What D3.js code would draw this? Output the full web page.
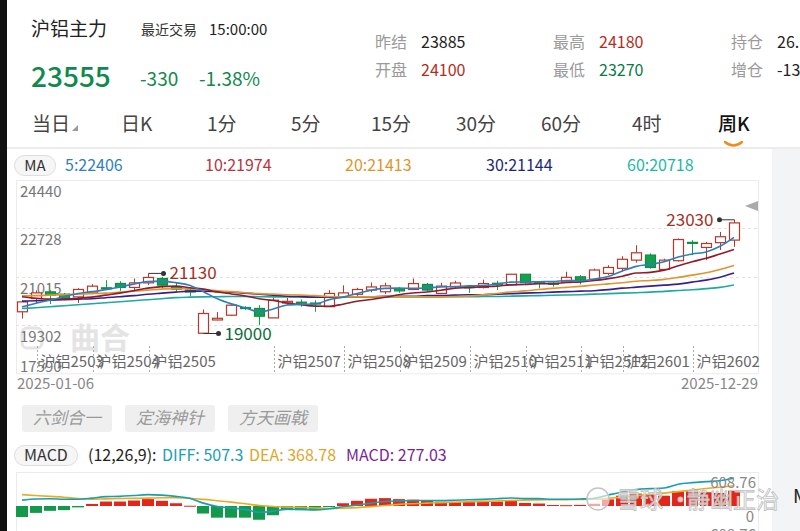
<!DOCTYPE html>
<html>
<head>
<meta charset="utf-8">
<script src="https://cdn.jsdelivr.net/npm/d3@7"></script>
<style>
body { margin: 0; background: #fff; }
svg { display: block; font-family: "Noto Sans CJK SC", "Noto Sans", sans-serif; }
</style>
</head>
<body>
<div id="chart"></div>
<script>
// weekly bars, 2025-01-06 .. 2025-12-29
const weeks = ["2025-01-06","2025-01-13","2025-01-20","2025-01-27","2025-02-03","2025-02-10","2025-02-17","2025-02-24",
  "2025-03-03","2025-03-10","2025-03-17","2025-03-24","2025-03-31","2025-04-07","2025-04-14","2025-04-21","2025-04-28",
  "2025-05-05","2025-05-12","2025-05-19","2025-05-26","2025-06-02","2025-06-09","2025-06-16","2025-06-23","2025-06-30",
  "2025-07-07","2025-07-14","2025-07-21","2025-07-28","2025-08-04","2025-08-11","2025-08-18","2025-08-25","2025-09-01",
  "2025-09-08","2025-09-15","2025-09-22","2025-09-29","2025-10-06","2025-10-13","2025-10-20","2025-10-27","2025-11-03",
  "2025-11-10","2025-11-17","2025-11-24","2025-12-01","2025-12-08","2025-12-15","2025-12-22","2025-12-29"];

const open  = [19770,20240,20476,20394,20298,20440,20620,20774,20632,20795,20951,20635,20540,19010,19480,19649,19920,19887,19553,20080,20110,20080,19950,20300,20390,20540,
               20480,20590,20560,20740,20420,20650,20660,20630,20780,20730,21100,20810,20780,20830,21010,20920,21130,21310,21600,21780,21270,21580,22230,22050,22220,22310];
const high  = [20160,20530,20536,20440,20607,20749,20890,20855,20951,21130,21010,20795,20650,19851,19760,20040,19970,20004,20270,20260,20210,20180,20540,20710,20620,20810,
               20800,20650,20950,20790,20800,20870,20700,20910,20870,21110,21110,20850,20830,21190,21070,21300,21420,21740,22130,21840,21650,22370,22310,22250,22600,23030];
const low   = [19530,20065,20040,20180,20085,20394,20580,20511,20536,20714,20597,20480,20330,19000,19470,19624,19830,19293,19553,20010,19950,19770,19950,20300,20330,20460,
               20400,20440,20540,20490,20400,20610,20440,20600,20540,20710,20760,20600,20660,20800,20740,20890,21070,21190,21510,21300,21240,21550,21780,21600,21960,22070];
const close = [20120,20440,20358,20228,20561,20678,20600,20632,20795,20987,20714,20570,20470,19709,19540,20004,19900,19613,20181,20140,20090,20060,20420,20440,20560,20650,
               20690,20510,20770,20540,20680,20790,20640,20770,20760,21100,20800,20790,20770,20990,20890,21250,21340,21630,21860,21340,21600,22330,22210,22190,22430,22920];

const ma5  = [19944,20075,20181,20305,20419,20483,20554,20653,20749,20838,20856,20802,20714,20480,20230,20050,19910,19760,19870,20010,20035,20045,20200,20290,20420,20536,
              20600,20610,20600,20620,20650,20665,20690,20700,20745,20820,20825,20835,20840,20880,20870,20930,21020,21215,21380,21450,21540,21710,21820,21890,22090,22406];
const ma10 = [20305,20252,20217,20217,20252,20288,20359,20430,20518,20607,20660,20678,20624,20572,20470,20402,20332,20230,20169,20084,20022,19971,19966,20039,20141,20205,
              20284,20374,20433,20473,20532,20605,20627,20660,20680,20725,20736,20764,20764,20809,20830,20876,20946,21032,21142,21166,21246,21400,21544,21664,21818,21974];
const ma20 = [20334,20341,20359,20376,20394,20412,20430,20465,20501,20536,20572,20589,20589,20554,20518,20483,20447,20412,20394,20376,20359,20341,20310,20300,20300,20300,
              20305,20305,20310,20300,20300,20310,20330,20370,20420,20470,20510,20560,20600,20635,20670,20720,20760,20800,20850,20880,20920,20990,21070,21150,21270,21413];
const ma30 = [20146,20163,20181,20199,20217,20234,20270,20305,20341,20394,20430,20465,20501,20501,20483,20465,20430,20394,20359,20323,20305,20288,20288,20288,20305,20305,
              20323,20323,20323,20341,20341,20359,20376,20376,20394,20412,20430,20447,20465,20483,20501,20518,20554,20607,20643,20678,20714,20749,20820,20891,20997,21144];
const ma60 = [19887,19915,19951,19986,20021,20057,20092,20128,20163,20199,20234,20270,20288,20300,20305,20310,20310,20305,20300,20300,20295,20290,20290,20290,20290,20290,
              20295,20295,20300,20300,20300,20305,20305,20310,20312,20323,20334,20344,20355,20366,20376,20394,20412,20430,20447,20465,20494,20522,20550,20589,20635,20718];

const macdBar = [-200,-125,-88,-75,-25,37,81,81,100,125,94,50,5,-137,-212,-212,-212,-250,-168,-75,-75,-75,-10,50,94,131,
                 143,125,115,95,75,75,75,75,80,90,55,45,18,15,20,40,120,187,225,206,187,268,268,250,237,277.03];
const dea  = [206,190,175,160,135,125,130,135,140,144,150,150,140,120,95,70,40,10,-10,-20,-25,-35,-45,-40,-30,-12,
              10,30,42,52,60,68,76,84,92,101,107,112,114,116,118,122,140,162,188,212,234,262,290,318,342,368.78];
const diff = [106,128,131,123,123,143,170,175,190,206,197,175,142,52,-11,-36,-66,-115,-94,-57,-62,-72,-50,-15,17,53,
              81,92,99,99,97,105,113,121,132,146,134,134,123,123,128,142,200,255,300,315,327,396,424,443,460,507.3];

const priceTicks = [24440, 22728, 21015, 19302, 17590];
const macdTicks = [608.76, 0, -608.76];
const rollWeeks  = ["2025-01-13","2025-02-10","2025-03-10","2025-05-12","2025-06-16","2025-07-14","2025-08-18","2025-09-15","2025-10-13","2025-11-03","2025-12-08"];
const rollLabels = ["沪铝2503","沪铝2504","沪铝2505","沪铝2507","沪铝2508","沪铝2509","沪铝2510","沪铝2511","沪铝2512","沪铝2601","沪铝2602"];

const maNames  = ["5","10","20","30","60"];
const maLast   = [22406, 21974, 21413, 21144, 20718];
const statNames  = ["昨结","开盘","最高","最低","持仓","增仓"];
const statValues = ["23885","24100","24180","23270","26.","-13"];
const tabs = ["当日","日K","1分","5分","15分","30分","60分","4时","周K"];

// colours / layout
const RED = "#b5392a", GREEN = "#15a04c", GREEN_TXT = "#0f8a4e";
const maColors = ["#2b7fbc", "#8e1c2c", "#e0952e", "#3a1f8c", "#1eaaa0"];
const maTextColors = ["#2f7fc1", "#b8333b", "#e0962a", "#1a2878", "#19b9a0"];
const maTextX = [65, 205, 345, 486, 627];
const tabX = [32, 121, 207, 291, 371, 456, 541, 632, 718];
const statX = [375, 375, 553, 553, 731, 731], statY = [48, 76, 48, 76, 48, 76];
const statColors = ["#222", "#b22d1e", "#b22d1e", "#0b7a4a", "#222", "#222"];

let svg = d3.select("#chart").append("svg")
    .attr("width", 800)
    .attr("height", 531);

function label(x, y, str, size, color, anchor) {
    return svg.append("text")
        .attr("x", x).attr("y", y)
        .style("font-size", size + "px")
        .style("fill", color)
        .style("text-anchor", anchor || "start")
        .text(str);
}

// frame bits
svg.append("rect").attr("x", 0).attr("y", 0).attr("width", 7).attr("height", 531).attr("fill", "#111");
svg.append("rect").attr("x", 7).attr("y", 147).attr("width", 793).attr("height", 2).attr("fill", "#ececec");
svg.append("rect").attr("x", 772).attr("y", 149).attr("width", 28).attr("height", 382).attr("fill", "#f3f4f6");
label(793, 503, "M", 19, "#222");

// header
label(31, 36, "沪铝主力", 19, "#222");
label(141, 35, "最近交易", 14, "#333");
label(209, 35, "15:00:00", 15, "#222");
label(31, 87, "23555", 28, GREEN_TXT).style("font-weight", 500);
label(140, 86, "-330", 19, GREEN_TXT);
label(199, 86, "-1.38%", 19, GREEN_TXT);
statNames.forEach((s, k) => {
    label(statX[k], statY[k], s, 16, "#9a9a9a");
    label(statX[k] + 46, statY[k], statValues[k], 16, statColors[k]);
});
tabs.forEach((t, k) => {
    let tx = label(tabX[k], 131, t, 19, k === tabs.length - 1 ? "#111" : "#444");
    if (k === tabs.length - 1) tx.style("font-weight", 500);
});
svg.append("path").attr("d", "M72,131L78,125L78,131Z").attr("fill", "#999");
svg.append("path").attr("d", "M725,142Q733.5,149 742,142")
    .attr("fill", "none").attr("stroke", "#f08c1e").attr("stroke-width", 2.5).attr("stroke-linecap", "round");

// MA legend
svg.append("rect").attr("x", 14.5).attr("y", 155.5).attr("width", 41).attr("height", 20).attr("rx", 10)
    .attr("fill", "#f6f6f6").attr("stroke", "#ddd");
label(35, 171, "MA", 15, "#333", "middle");
maNames.forEach((n, k) => label(maTextX[k], 171, n + ":" + maLast[k], 16, maTextColors[k]));

// price panel
const pLeft = 16, pRight = 758, pTop = 180, pBottom = 373.3;
let x = d3.scalePoint().domain(weeks).range([22, 734]);
let y = d3.scaleLinear().domain([17590, 24440]).range([pBottom, pTop]);

// watermark under everything
svg.append("rect").attr("x", 22).attr("y", 328).attr("width", 20).attr("height", 20).attr("rx", 5)
    .attr("fill", "none").attr("stroke", "#e4e4e4").attr("stroke-width", 3);
label(70, 349, "曲合", 30, "#e4e4e4").style("font-weight", 700);

svg.append("rect").attr("x", pLeft + 0.5).attr("y", pTop + 0.5).attr("width", pRight - pLeft).attr("height", pBottom - pTop)
    .attr("fill", "none").attr("stroke", "#ebebeb");

priceTicks.forEach((v, k) => {
    let gy = Math.round(y(v)) + 0.5;
    if (k > 0 && k < priceTicks.length - 1) {
        svg.append("line").attr("x1", pLeft).attr("x2", pRight).attr("y1", gy).attr("y2", gy)
            .attr("stroke", "#e2e2e2").attr("stroke-dasharray", "3,3");
    }
    label(20, k === priceTicks.length - 1 ? gy - 2 : gy + 16, v, 15, "#777");
});

// contract roll ticks
rollWeeks.forEach((w, k) => {
    let rx = Math.round(x(w)) + 1.5;
    svg.append("line").attr("x1", rx).attr("x2", rx).attr("y1", 346).attr("y2", pBottom)
        .attr("stroke", "#aaa").attr("stroke-dasharray", "2,2");
    label(rx + 3, 367, rollLabels[k], 15, "#666");
});

// candles
let candles = weeks.map((w, i) => ({ w: w, o: open[i], h: high[i], l: low[i], c: close[i] }));
let cg = svg.append("g");
candles.forEach(d => {
    let cx = Math.round(x(d.w)) + 0.5;
    let up = d.c >= d.o;
    let col = up ? RED : GREEN;
    cg.append("line").attr("x1", cx).attr("x2", cx).attr("y1", y(d.h)).attr("y2", y(d.l))
        .attr("stroke", col).attr("stroke-width", 1);
    let y0 = y(Math.max(d.o, d.c)), y1 = y(Math.min(d.o, d.c));
    cg.append("rect")
        .attr("x", cx - 5).attr("y", y0)
        .attr("width", 10).attr("height", Math.max(1, y1 - y0))
        .attr("fill", up ? "#fff" : GREEN)
        .attr("stroke", up ? RED : "#0f8e42")
        .attr("stroke-width", 1.2);
});

// moving averages
let line = d3.line().x((d, i) => x(weeks[i])).y(d => y(d)).curve(d3.curveMonotoneX);
[ma60, ma30, ma20, ma10, ma5].forEach((s, k) => {
    svg.append("path").attr("d", line(s))
        .attr("fill", "none")
        .attr("stroke", maColors[4 - k])
        .attr("stroke-width", 1.6);
});

// high / low marks
const marks = [
    { i: 9,  v: 21130, dir: 1,  color: "#a3301f" },
    { i: 13, v: 19000, dir: 1,  color: "#0d6b3c" },
    { i: 51, v: 23030, dir: -1, color: "#a3301f" }
];
marks.forEach(m => {
    let mx = Math.round(x(weeks[m.i])) + 0.5, my = y(m.v);
    let ex = mx + 15 * m.dir;
    svg.append("line").attr("x1", mx).attr("x2", ex).attr("y1", my).attr("y2", my).attr("stroke", "#333");
    svg.append("circle").attr("cx", ex).attr("cy", my).attr("r", 2.5).attr("fill", "#333");
    label(ex + 6 * m.dir, my + 6, m.v, 17, m.color, m.dir > 0 ? "start" : "end");
});

// last-price arrow
svg.append("path").attr("d", "M745,206L758,201L758,211Z").attr("fill", "#aaa");

label(17, 389, weeks[0], 15, "#888");
label(758, 389, weeks[weeks.length - 1], 15, "#888", "end");

// strategy buttons
["六剑合一", "定海神针", "方天画戟"].forEach((b, k) => {
    let bx = 22 + k * 103;
    svg.append("rect").attr("x", bx).attr("y", 405).attr("width", 90).attr("height", 27).attr("rx", 3).attr("fill", "#efefef");
    label(bx + 45, 424, b, 17, "#9a9a9a", "middle").style("font-style", "italic");
});

// MACD legend
svg.append("rect").attr("x", 14.5).attr("y", 445.5).attr("width", 63).attr("height", 20).attr("rx", 10)
    .attr("fill", "#f6f6f6").attr("stroke", "#ddd");
label(46, 461, "MACD", 16, "#333", "middle");
label(88, 461, "(12,26,9):", 16, "#222");
label(162, 461, "DIFF: " + diff[diff.length - 1], 16, "#1a9eb2");
label(249, 461, "DEA: " + dea[dea.length - 1], 16, "#e0a62a");
label(346, 461, "MACD: " + macdBar[macdBar.length - 1], 16, "#7b1f9a");

// MACD panel
let ym = d3.scaleLinear().domain([-608.76, 608.76]).range([539.5, 472.5]);
svg.append("rect").attr("x", pLeft + 0.5).attr("y", 472.5).attr("width", pRight - pLeft).attr("height", 70)
    .attr("fill", "none").attr("stroke", "#ececec");

svg.append("g").selectAll("rect").data(macdBar).enter().append("rect")
    .attr("x", (d, i) => Math.round(x(weeks[i])) - 6)
    .attr("y", d => ym(Math.max(0, d)))
    .attr("width", 12)
    .attr("height", d => Math.max(1, Math.abs(ym(d) - ym(0))))
    .attr("fill", d => d >= 0 ? "#e3261b" : "#13994a");

let mline = d3.line().x((d, i) => x(weeks[i])).y(d => ym(d)).curve(d3.curveMonotoneX);
svg.append("path").attr("d", mline(dea)).attr("fill", "none").attr("stroke", "#e6ad22").attr("stroke-width", 1.6);
svg.append("path").attr("d", mline(diff)).attr("fill", "none").attr("stroke", "#179fb0").attr("stroke-width", 1.6);

label(756, 488, macdTicks[0], 15, "#888", "end");
label(754, 522, macdTicks[1], 15, "#888", "end");
label(756, 540, macdTicks[2], 15, "#888", "end");

// bottom watermark
svg.append("circle").attr("cx", 598).attr("cy", 499).attr("r", 11)
    .attr("fill", "rgba(255,255,255,0.6)").attr("stroke", "#c4c4c4").attr("stroke-width", 1.5);
[["雪球", 617], ["·", 669], ["静幽正治", 687]].forEach(p => {
    label(p[1], 508, p[0], 23, "rgba(255,255,255,0.75)")
        .attr("stroke", "#bdbdbd").attr("stroke-width", 0.8);
});
</script>
</body>
</html>
